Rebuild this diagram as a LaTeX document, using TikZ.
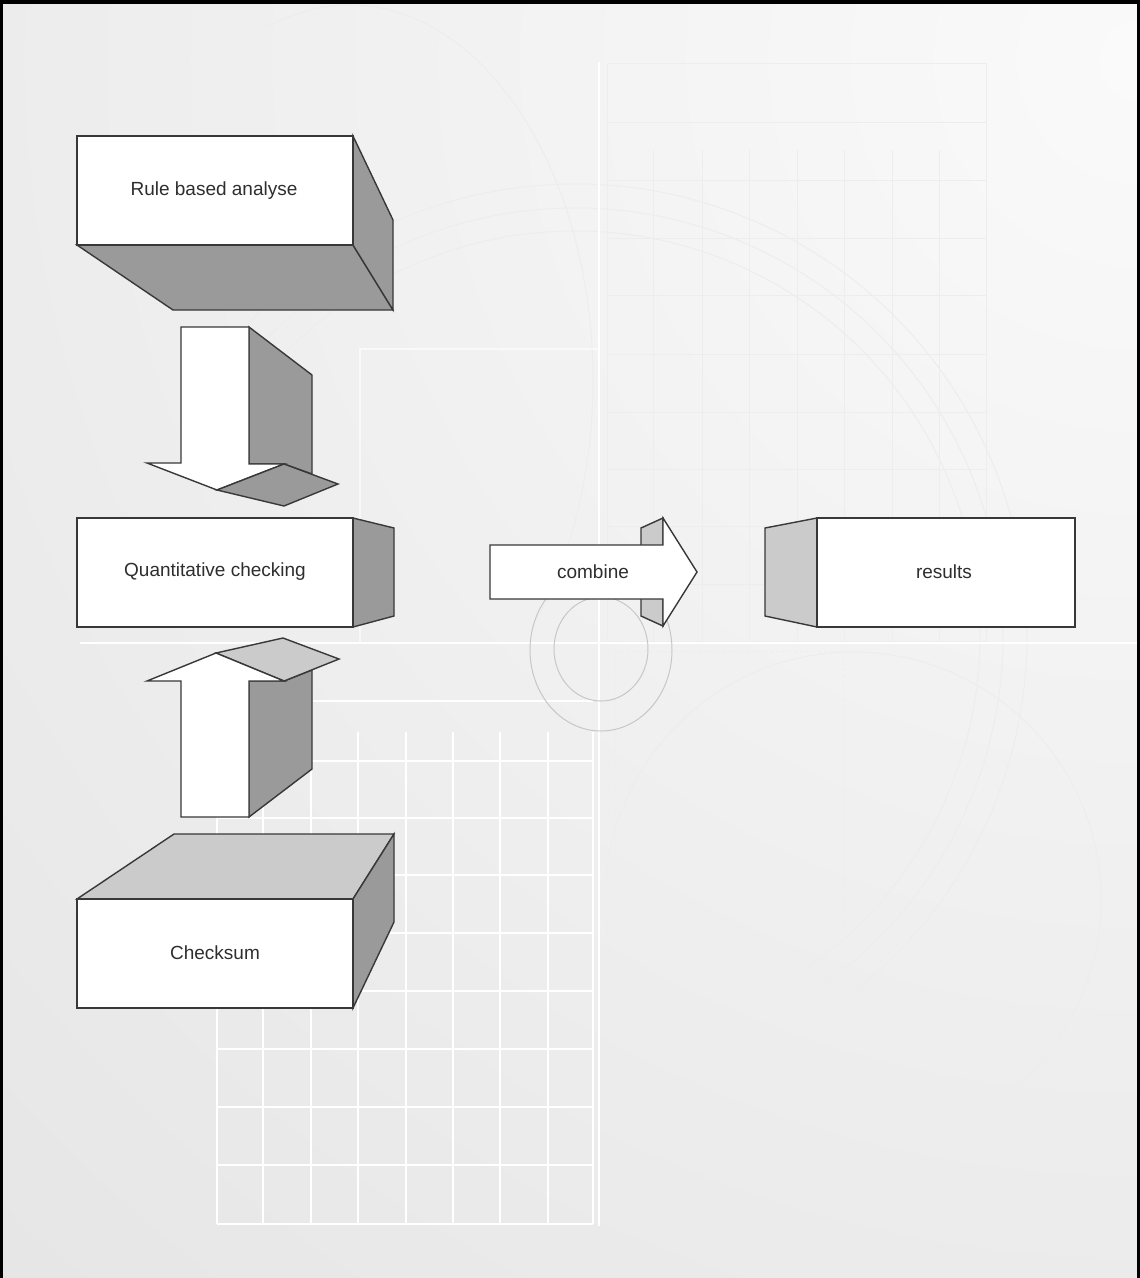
\documentclass[tikz,border=0pt]{standalone}
\usepackage{fontspec}
\setmainfont{Liberation Sans}
\definecolor{outline}{HTML}{383838}
\definecolor{ink}{HTML}{2E2E2E}
\definecolor{shadeD}{HTML}{9A9A9A}
\definecolor{shadeL}{HTML}{CBCBCB}
\definecolor{bgHi}{HTML}{FAFAFA}
\definecolor{bgLo}{HTML}{E3E3E3}
\tikzset{
  edge/.style={draw=outline, line width=1.4pt, line join=miter},
  front/.style={edge, fill=white},
  darkface/.style={edge, fill=shadeD},
  lightface/.style={edge, fill=shadeL},
  caption/.style={text=ink, inner sep=0pt, font=\fontsize{19}{23}\selectfont},
  gridT/.style={draw=black!7, line width=1pt},
  gridW/.style={draw=white, line width=1.6pt},
  faint/.style={draw=black!7, line width=1pt},
}
\begin{document}
\begin{tikzpicture}[x=1pt,y=-1pt]
\useasboundingbox (0,0) rectangle (1140,1278);

% ---- backdrop: soft light from the upper right ----
\begin{scope}
  \clip (0,0) rectangle (1140,1278);
  \shade[inner color=bgHi, outer color=bgLo] (1140,60) circle[radius=1900];
\end{scope}

% drafting ornaments
\draw[faint] (350,380) ++(250:243 and 375)
  arc[start angle=250, end angle=400, x radius=243, y radius=375];
\foreach \r in {405,428,452}
  \draw[faint] (575,636) ++(210:\r) arc[start angle=210, end angle=415, radius=\r];
\draw[faint] (853,900) circle[radius=248];
\draw[faint, dashed] (615,651) rectangle (843,934);
\draw[white, opacity=0.6, line width=1.2pt] (600,349) -- (360,349) -- (360,643);

% upper grid
\draw[gridT] (607,63) rectangle (986,641);
\draw[gridT] (607,122) -- (986,122);
\foreach \y in {180,238,295,354,412,469,526,584}
  \draw[gridT] (607,\y) -- (986,\y);
\foreach \x in {653,702,749,797,844,892,939}
  \draw[gridT] (\x,150) -- (\x,641);

% lower grid
\draw[gridW] (80,643) -- (1140,643);
\draw[gridW] (599,62) -- (599,1226);
\draw[gridW] (313,701) -- (593,701);
\foreach \x in {217,263,311,358,406,453,500,548,593}
  \draw[gridW] (\x,732) -- (\x,1224);
\foreach \y in {761,818,875,933,991,1049,1107,1165,1224}
  \draw[gridW] (217,\y) -- (593,\y);

% ring pair
\draw[black!22, line width=1pt] (601,650) ellipse[x radius=71, y radius=81];
\draw[black!22, line width=1pt] (601,649) ellipse[x radius=47, y radius=52];

% ---- frame ----
\draw[black, line width=4pt] (0,2) -- (1140,2);
\draw[black, line width=3pt] (1.5,0) -- (1.5,1278);
\draw[black, line width=3pt] (1138.5,0) -- (1138.5,1278);

% ---- Rule based analyse block ----
\draw[darkface] (77,245) -- (353,245) -- (393,310) -- (173,310) -- cycle;
\draw[darkface] (353,136) -- (393,220) -- (393,310) -- (353,245) -- cycle;
\draw[front] (77,136) rectangle (353,245);
\node[caption] (rule) at (214,191) {Rule based analyse};

% ---- downward block arrow ----
\draw[darkface] (249,327) -- (312,375) -- (312,474) -- (284,464) -- (249,464) -- cycle;
\draw[front] (181,327) -- (249,327) -- (249,464) -- (284,464) -- (217,490)
  -- (147,463) -- (181,463) -- cycle;
\draw[darkface] (217,490) -- (284,464) -- (338,484) -- (284,506) -- cycle;

% ---- Quantitative checking block ----
\draw[darkface] (353,518) -- (394,528) -- (394,616) -- (353,627) -- cycle;
\draw[front] (77,518) rectangle (353,627);
\node[caption] (quant) at (215,572) {Quantitative checking};

% ---- upward block arrow ----
\draw[darkface] (249,817) -- (249,681) -- (284,681) -- (312,670) -- (312,769) -- cycle;
\draw[lightface] (216,653) -- (283,638) -- (339,659) -- (284,681) -- cycle;
\draw[front] (181,817) -- (181,681) -- (147,681) -- (216,653) -- (284,681)
  -- (249,681) -- (249,817) -- cycle;

% ---- Checksum block ----
\draw[lightface] (77,899) -- (174,834) -- (394,834) -- (353,899) -- cycle;
\draw[darkface] (353,899) -- (394,834) -- (394,922) -- (353,1008) -- cycle;
\draw[front] (77,899) rectangle (353,1008);
\node[caption] (checksum) at (215,953) {Checksum};

% ---- combine arrow ----
\draw[lightface] (641,528) -- (663,518) -- (663,626) -- (641,616) -- cycle;
\draw[front] (490,545) -- (663,545) -- (663,518) -- (697,572) -- (663,626)
  -- (663,599) -- (490,599) -- cycle;
\node[caption] (combine) at (593,572) {combine};

% ---- results block ----
\draw[lightface] (817,518) -- (765,528) -- (765,616) -- (817,627) -- cycle;
\draw[front] (817,518) rectangle (1075,627);
\node[caption] (results) at (944,572) {results};
\end{tikzpicture}
\end{document}
